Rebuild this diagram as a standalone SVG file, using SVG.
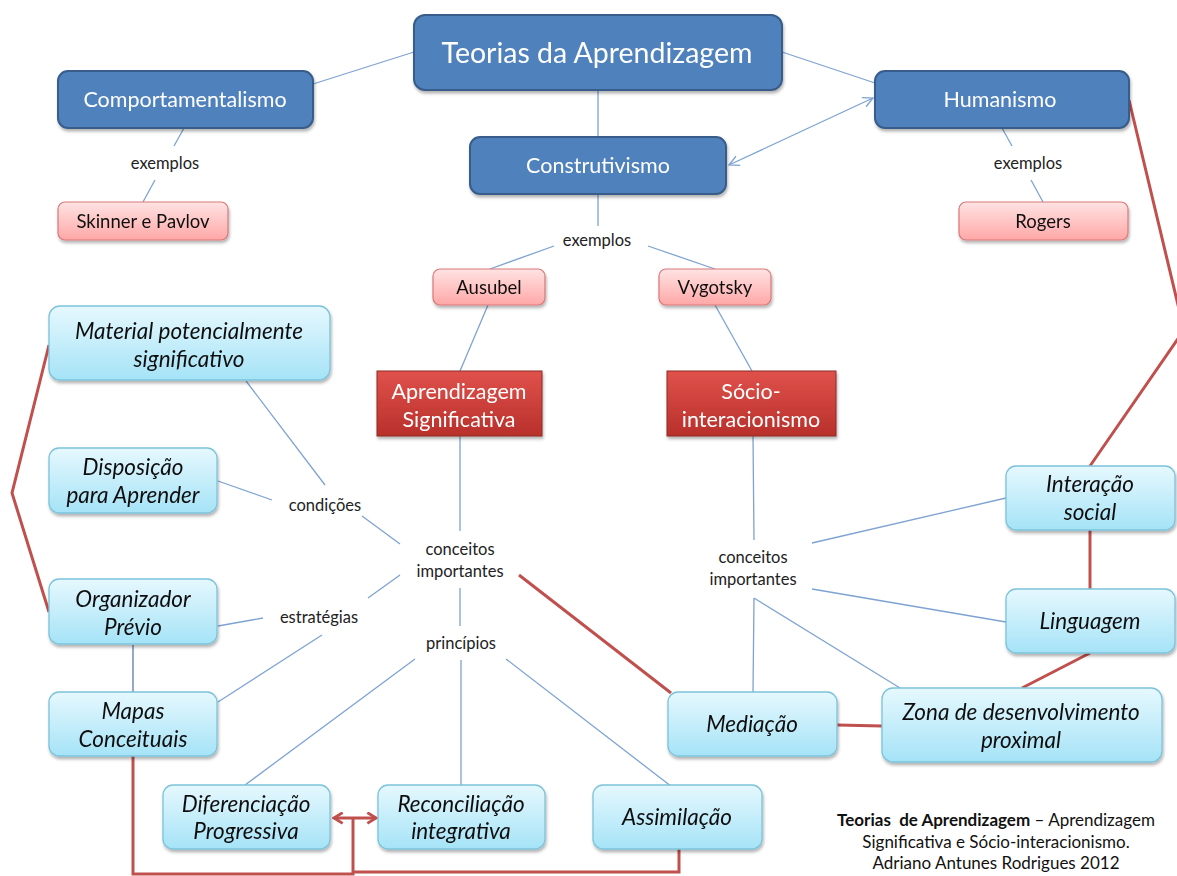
<svg xmlns="http://www.w3.org/2000/svg" width="1177" height="876" viewBox="0 0 1177 876">
  <style>
    text { font-family: Lato, "Open Sans", "Liberation Sans", sans-serif; text-anchor: middle; }
    .main rect { fill: #4F81BD; stroke: #385D8A; stroke-width: 2; }
    .main text { fill: #FFFFFF; font-size: 21.5px; }
    .pink rect { fill: url(#gPink); stroke: #D9787A; stroke-width: 1.2; }
    .pink text { fill: #111; font-size: 18.5px; }
    .red rect { fill: url(#gRed); stroke: #8E2A26; stroke-width: 1; }
    .red text { fill: #FFFFFF; font-size: 21.5px; }
    .blue rect { fill: url(#gBlue); stroke: #7CC3DA; stroke-width: 1.3; }
    .blue text { fill: #111; font-size: 22.5px; font-style: italic; }
    .lbl { fill: #222; font-size: 16.5px; }
    .cap { fill: #111; font-size: 17px; white-space: pre; }
    .thin { stroke: #7EA3D2; stroke-width: 1.3; fill: none; }
    .strong { stroke: #C0504D; stroke-width: 3; fill: none; }
  </style>
  <defs>
    <linearGradient id="gPink" x1="0" y1="0" x2="0" y2="1">
      <stop offset="0" stop-color="#FFE3E3"/>
      <stop offset="1" stop-color="#FFA7A7"/>
    </linearGradient>
    <linearGradient id="gRed" x1="0" y1="0" x2="0" y2="1">
      <stop offset="0" stop-color="#E0514B"/>
      <stop offset="1" stop-color="#B8302B"/>
    </linearGradient>
    <linearGradient id="gBlue" x1="0" y1="0" x2="0" y2="1">
      <stop offset="0" stop-color="#E6F8FE"/>
      <stop offset="1" stop-color="#A5E3F7"/>
    </linearGradient>
    <filter id="shadow" x="-10%" y="-10%" width="125%" height="140%">
      <feDropShadow dx="1" dy="2.5" stdDeviation="1.8" flood-color="#000" flood-opacity="0.3"/>
    </filter>
    <marker id="openBlue" viewBox="0 0 12 12" refX="11" refY="6" markerWidth="12" markerHeight="12" markerUnits="userSpaceOnUse" orient="auto-start-reverse">
      <path d="M1,1 L11,6 L1,11" fill="none" stroke="#7EA3D2" stroke-width="1.3"/>
    </marker>
    <marker id="openRed" viewBox="0 0 12 12" refX="10" refY="6" markerWidth="13" markerHeight="13" markerUnits="userSpaceOnUse" orient="auto-start-reverse">
      <path d="M2,1 L10,6 L2,11" fill="none" stroke="#C0504D" stroke-width="2.6"/>
    </marker>
  </defs>

  <rect width="1177" height="876" fill="#FFFFFF"/>

  <g id="connectors">
    <!-- top level -->
    <line class="thin" x1="313" y1="84" x2="414" y2="52"/>
    <line class="thin" x1="782" y1="52" x2="875" y2="83"/>
    <line class="thin" x1="598" y1="90" x2="598" y2="137"/>
    <line class="thin" x1="873" y1="98" x2="729" y2="165" marker-start="url(#openBlue)" marker-end="url(#openBlue)"/>
    <!-- examples -->
    <line class="thin" x1="184" y1="128" x2="174" y2="146"/>
    <line class="thin" x1="155" y1="180" x2="143" y2="202"/>
    <line class="thin" x1="1002" y1="128" x2="1012" y2="146"/>
    <line class="thin" x1="1031" y1="180" x2="1043" y2="202"/>
    <line class="thin" x1="598" y1="194" x2="598" y2="226"/>
    <line class="thin" x1="554" y1="246" x2="490" y2="269"/>
    <line class="thin" x1="648" y1="246" x2="715" y2="269"/>
    <line class="thin" x1="488" y1="305" x2="460" y2="371"/>
    <line class="thin" x1="715" y1="305" x2="752" y2="371"/>
    <!-- Ausubel branch -->
    <line class="thin" x1="460" y1="436" x2="460" y2="531"/>
    <line class="thin" x1="460" y1="588" x2="460" y2="626"/>
    <line class="thin" x1="415" y1="659" x2="245" y2="785"/>
    <line class="thin" x1="461" y1="660" x2="461" y2="785"/>
    <line class="thin" x1="506" y1="659" x2="676" y2="790"/>
    <line class="thin" x1="400" y1="544" x2="362" y2="516"/>
    <line class="thin" x1="400" y1="575" x2="368" y2="598"/>
    <line class="thin" x1="246" y1="381" x2="325" y2="485"/>
    <line class="thin" x1="218" y1="481" x2="272" y2="500"/>
    <line class="thin" x1="218" y1="626" x2="263" y2="618"/>
    <line class="thin" x1="218" y1="702" x2="322" y2="635"/>
    <line x1="133" y1="645" x2="133" y2="692" stroke="#4F6F9C" stroke-width="1.2"/>
    <!-- Vygotsky branch -->
    <line class="thin" x1="753" y1="436" x2="754" y2="540"/>
    <line class="thin" x1="812" y1="543" x2="1006" y2="498"/>
    <line class="thin" x1="812" y1="589" x2="1006" y2="622"/>
    <line class="thin" x1="754" y1="598" x2="753" y2="692"/>
    <line class="thin" x1="754" y1="598" x2="900" y2="688"/>
    <!-- cross links -->
    <polyline class="strong" points="1129,100 1184,330 1090,466"/>
    <line class="strong" x1="1090" y1="530" x2="1090" y2="589"/>
    <line class="strong" x1="1090" y1="653" x2="1022" y2="688"/>
    <line class="strong" x1="882" y1="726" x2="837" y2="725"/>
    <line class="strong" x1="519" y1="575" x2="671" y2="693"/>
    <polyline class="strong" points="49,345 12,493 49,612"/>
    <polyline class="strong" points="133,756 133,874 353,874 353,818"/>
    <polyline class="strong" points="353,872 679,872 679,849"/>
    <line class="strong" x1="334" y1="818" x2="376" y2="818" marker-start="url(#openRed)" marker-end="url(#openRed)"/>
  </g>

  <g id="teorias" class="main" filter="url(#shadow)">
    <rect x="414" y="15" width="368" height="75" rx="11"/>
    <text x="597" y="63" style="font-size:28.5px">Teorias da Aprendizagem</text>
  </g>
  <g id="comportamentalismo" class="main" filter="url(#shadow)">
    <rect x="58" y="71" width="255" height="57" rx="10"/>
    <text x="185" y="107">Comportamentalismo</text>
  </g>
  <g id="humanismo" class="main" filter="url(#shadow)">
    <rect x="875" y="71" width="254" height="57" rx="10"/>
    <text x="1000" y="107">Humanismo</text>
  </g>
  <g id="construtivismo" class="main" filter="url(#shadow)">
    <rect x="470" y="137" width="256" height="57" rx="10"/>
    <text x="598" y="173">Construtivismo</text>
  </g>

  <g id="lbl-exemplos-1"><text class="lbl" x="165" y="169">exemplos</text></g>
  <g id="lbl-exemplos-2"><text class="lbl" x="1028" y="169">exemplos</text></g>
  <g id="lbl-exemplos-3"><text class="lbl" x="597" y="246">exemplos</text></g>

  <g id="skinner" class="pink" filter="url(#shadow)">
    <rect x="58" y="202" width="170" height="38" rx="7"/>
    <text x="143" y="228">Skinner e Pavlov</text>
  </g>
  <g id="rogers" class="pink" filter="url(#shadow)">
    <rect x="959" y="202" width="169" height="38" rx="7"/>
    <text x="1043" y="228">Rogers</text>
  </g>
  <g id="ausubel" class="pink" filter="url(#shadow)">
    <rect x="433" y="269" width="112" height="36" rx="7"/>
    <text x="489" y="294">Ausubel</text>
  </g>
  <g id="vygotsky" class="pink" filter="url(#shadow)">
    <rect x="659" y="269" width="112" height="36" rx="7"/>
    <text x="715" y="294">Vygotsky</text>
  </g>

  <g id="aprendizagem-significativa" class="red" filter="url(#shadow)">
    <rect x="377" y="371" width="165" height="65"/>
    <text x="459" y="399">Aprendizagem</text>
    <text x="459" y="427">Significativa</text>
  </g>
  <g id="socio-interacionismo" class="red" filter="url(#shadow)">
    <rect x="667" y="371" width="169" height="65"/>
    <text x="751" y="399">Sócio-</text>
    <text x="751" y="427">interacionismo</text>
  </g>

  <g id="lbl-conceitos-1">
    <text class="lbl" x="460" y="555">conceitos</text>
    <text class="lbl" x="460" y="577">importantes</text>
  </g>
  <g id="lbl-principios"><text class="lbl" x="461" y="649">princípios</text></g>
  <g id="lbl-condicoes"><text class="lbl" x="325" y="511">condições</text></g>
  <g id="lbl-estrategias"><text class="lbl" x="319" y="623">estratégias</text></g>
  <g id="lbl-conceitos-2">
    <text class="lbl" x="753" y="563">conceitos</text>
    <text class="lbl" x="753" y="585">importantes</text>
  </g>

  <g id="material" class="blue" filter="url(#shadow)">
    <rect x="49" y="306" width="281" height="74" rx="11"/>
    <text x="189" y="339">Material potencialmente</text>
    <text x="189" y="367">significativo</text>
  </g>
  <g id="disposicao" class="blue" filter="url(#shadow)">
    <rect x="49" y="448" width="168" height="65" rx="10"/>
    <text x="133" y="475">Disposição</text>
    <text x="133" y="503">para Aprender</text>
  </g>
  <g id="organizador" class="blue" filter="url(#shadow)">
    <rect x="49" y="579" width="168" height="65" rx="10"/>
    <text x="133" y="607">Organizador</text>
    <text x="133" y="635">Prévio</text>
  </g>
  <g id="mapas" class="blue" filter="url(#shadow)">
    <rect x="49" y="692" width="168" height="64" rx="10"/>
    <text x="133" y="719">Mapas</text>
    <text x="133" y="747">Conceituais</text>
  </g>
  <g id="diferenciacao" class="blue" filter="url(#shadow)">
    <rect x="163" y="785" width="167" height="64" rx="10"/>
    <text x="246" y="812">Diferenciação</text>
    <text x="246" y="839">Progressiva</text>
  </g>
  <g id="reconciliacao" class="blue" filter="url(#shadow)">
    <rect x="378" y="785" width="167" height="64" rx="10"/>
    <text x="461" y="812">Reconciliação</text>
    <text x="461" y="839">integrativa</text>
  </g>
  <g id="assimilacao" class="blue" filter="url(#shadow)">
    <rect x="593" y="785" width="169" height="64" rx="10"/>
    <text x="677" y="825">Assimilação</text>
  </g>
  <g id="interacao" class="blue" filter="url(#shadow)">
    <rect x="1006" y="466" width="169" height="64" rx="10"/>
    <text x="1090" y="492">Interação</text>
    <text x="1090" y="520">social</text>
  </g>
  <g id="linguagem" class="blue" filter="url(#shadow)">
    <rect x="1006" y="589" width="169" height="64" rx="10"/>
    <text x="1090" y="629">Linguagem</text>
  </g>
  <g id="mediacao" class="blue" filter="url(#shadow)">
    <rect x="668" y="692" width="169" height="64" rx="10"/>
    <text x="752" y="732">Mediação</text>
  </g>
  <g id="zona" class="blue" filter="url(#shadow)">
    <rect x="882" y="688" width="280" height="74" rx="11"/>
    <text x="1021" y="720">Zona de desenvolvimento</text>
    <text x="1021" y="748">proximal</text>
  </g>

  <g id="caption">
    <text class="cap" x="996" y="826"><tspan font-weight="bold">Teorias  de Aprendizagem</tspan> – Aprendizagem</text>
    <text class="cap" x="996" y="848">Significativa e Sócio-interacionismo.</text>
    <text class="cap" x="996" y="869">Adriano Antunes Rodrigues 2012</text>
  </g>
</svg>
